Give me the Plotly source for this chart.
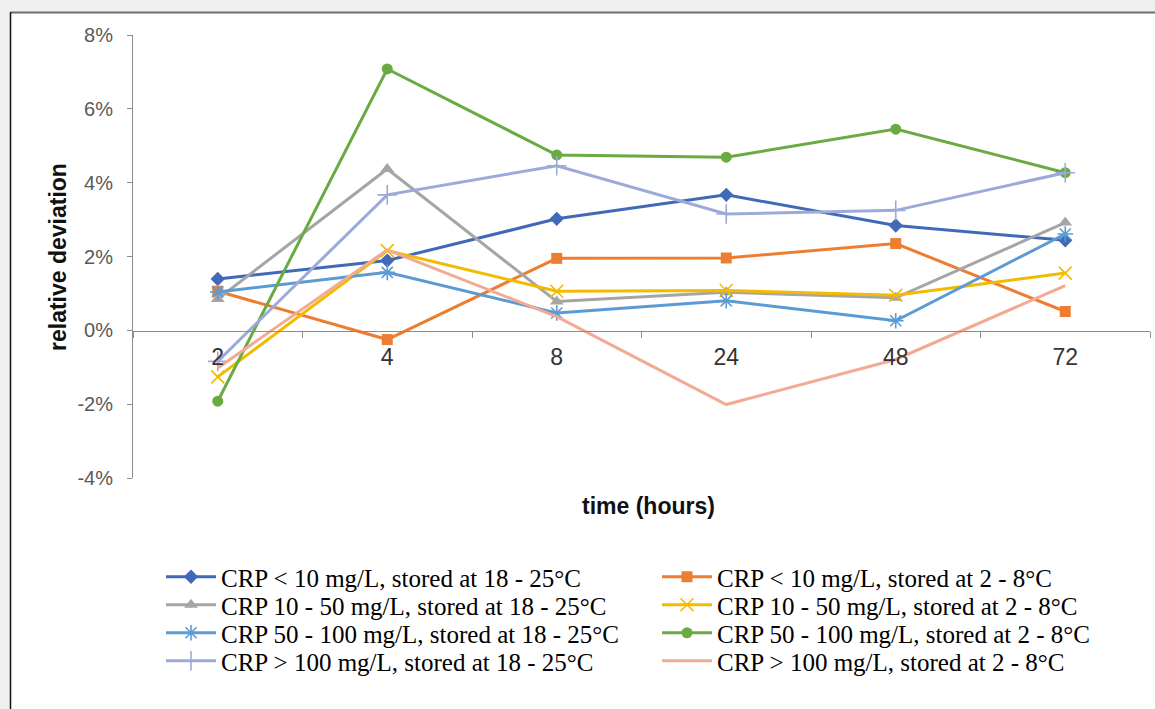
import plotly.graph_objects as go

# ---- data ----
hours = ["2", "4", "8", "24", "48", "72"]

names = [
    "CRP < 10 mg/L, stored at 18 - 25°C",
    "CRP < 10 mg/L, stored at 2 - 8°C",
    "CRP 10 - 50 mg/L, stored at 18 - 25°C",
    "CRP 10 - 50 mg/L, stored at 2 - 8°C",
    "CRP 50 - 100 mg/L, stored at 18 - 25°C",
    "CRP 50 - 100 mg/L, stored at 2 - 8°C",
    "CRP > 100 mg/L, stored at 18 - 25°C",
    "CRP > 100 mg/L, stored at 2 - 8°C",
]

lt10_rt = [1.39, 1.89, 3.02, 3.67, 2.84, 2.44]
lt10_cold = [1.06, -0.25, 1.95, 1.96, 2.35, 0.51]
m10_50_rt = [0.85, 4.37, 0.78, 1.03, 0.88, 2.92]
m10_50_cold = [-1.26, 2.16, 1.06, 1.08, 0.95, 1.55]
m50_100_rt = [1.04, 1.57, 0.47, 0.80, 0.26, 2.61]
m50_100_cold = [-1.92, 7.08, 4.75, 4.69, 5.45, 4.27]
gt100_rt = [-0.84, 3.67, 4.46, 3.15, 3.25, 4.27]
gt100_cold = [-1.02, 2.18, 0.37, -2.01, -0.79, 1.21]

series = [lt10_rt, lt10_cold, m10_50_rt, m10_50_cold,
          m50_100_rt, m50_100_cold, gt100_rt, gt100_cold]

y_tickvals = [-4, -2, 0, 2, 4, 6, 8]
y_ticktext = ["-4%", "-2%", "0%", "2%", "4%", "6%", "8%"]

# ---- styles ----
colors = ["#4169B8", "#ED7D31", "#A5A5A5", "#F2BA00",
          "#5B9BD5", "#6AAA43", "#9CAADA", "#F3AA92"]
symbols = ["diamond", "square", "triangle-up", "x-thin",
           "asterisk-open", "circle", "cross-thin", None]
msizes = [11, 11, 12, 13, 13, 11, 14, 0]

W, H = 1155, 709
L, R, T, B = 133, 5, 35, 231
pw = W - L - R
ph = H - T - B


def px_x(p):
    return (p - L) / pw


def px_y(p):
    return (H - B - p) / ph


fig = go.Figure()
legend_ids = ["legend", "legend2", "legend3", "legend4"]
for i, (nm, ys) in enumerate(zip(names, series)):
    sym = symbols[i]
    kw = dict(mode="lines+markers" if sym else "lines")
    if sym:
        if sym in ("x-thin", "asterisk-open", "cross-thin"):
            kw["marker"] = dict(symbol=sym, size=msizes[i], color=colors[i],
                                line=dict(color=colors[i], width=1.6))
        else:
            kw["marker"] = dict(symbol=sym, size=msizes[i], color=colors[i],
                                line=dict(width=0))
    if i % 2 == 0:
        kw["legendwidth"] = 431
    fig.add_trace(go.Scatter(
        x=hours, y=ys, name=nm,
        line=dict(color=colors[i], width=3),
        legend=legend_ids[i // 2],
        **kw,
    ))

row_y = [577, 605, 633, 661]
legend_common = dict(
    orientation="h", xanchor="left", yanchor="middle",
    x=px_x(161), font=dict(family="Liberation Serif", size=25, color="#000000"),
    bgcolor="rgba(0,0,0,0)", entrywidthmode="pixels",
    itemwidth=50, tracegroupgap=0,
)
legends = {}
for k, lid in enumerate(legend_ids):
    legends[lid] = dict(legend_common, y=px_y(row_y[k]))

fig.update_layout(
    width=W, height=H, autosize=False,
    margin=dict(l=L, r=R, t=T, b=B, pad=0),
    paper_bgcolor="#F0F0F0", plot_bgcolor="white",
    showlegend=True,
    font=dict(family="Liberation Sans"),
    xaxis=dict(
        type="category", categoryorder="array", categoryarray=hours,
        range=[-0.5, 5.5], anchor="free", position=px_y(330.5),
        showline=True, linecolor="#8C8C8C", linewidth=1,
        ticks="outside", tickson="boundaries", ticklen=6, tickcolor="#8C8C8C",
        showgrid=False, zeroline=False,
        tickfont=dict(size=23, color="#333333"),
        ticklabelstandoff=6,
    ),
    yaxis=dict(
        range=[-4, 8], tickvals=y_tickvals, ticktext=y_ticktext,
        showline=True, linecolor="#8C8C8C", linewidth=1,
        ticks="outside", ticklen=5, tickcolor="#8C8C8C",
        showgrid=False, zeroline=False,
        tickfont=dict(size=20, color="#595959"),
        ticklabelstandoff=10,
    ),
    shapes=[
        dict(type="rect", xref="paper", yref="paper", layer="below",
             x0=px_x(11), x1=px_x(1160), y0=px_y(714), y1=px_y(13),
             fillcolor="white", line=dict(width=0)),
        dict(type="line", xref="paper", yref="paper", layer="above",
             x0=px_x(10.5), x1=px_x(1160), y0=px_y(12.5), y1=px_y(12.5),
             line=dict(color="#6E6E6E", width=2)),
        dict(type="line", xref="paper", yref="paper", layer="above",
             x0=px_x(10.5), x1=px_x(10.5), y0=px_y(12), y1=px_y(714),
             line=dict(color="#111111", width=1.5)),
    ],
    annotations=[
        dict(text="<b>time (hours)</b>", xref="paper", yref="paper",
             x=px_x(648), y=px_y(506), showarrow=False,
             xanchor="center", yanchor="middle",
             font=dict(family="Liberation Sans", size=23, color="#111111")),
        dict(text="<b>relative deviation</b>", xref="paper", yref="paper",
             x=px_x(58), y=px_y(257), showarrow=False, textangle=-90,
             xanchor="center", yanchor="middle",
             font=dict(family="Liberation Sans", size=23, color="#111111")),
    ],
    **legends,
)

fig.write_html("out.html")
